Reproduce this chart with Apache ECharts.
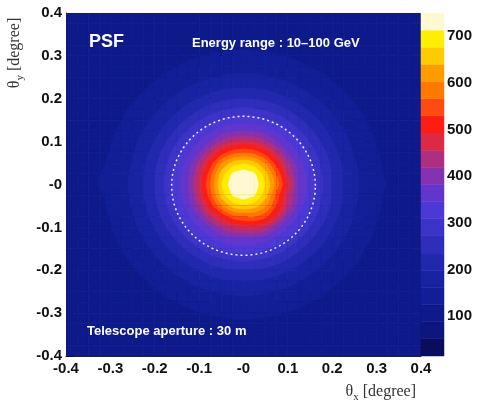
<!DOCTYPE html>
<html>
<head>
<meta charset="utf-8">
<script src="https://cdn.jsdelivr.net/npm/echarts@6/dist/echarts.min.js"></script>
<style>
html, body { margin: 0; padding: 0; background: #fff; }
#main { width: 477px; height: 402px; }
</style>
</head>
<body>
<div id="main"></div>
<script>
// 网格点坐标 (单位: degree)
var xs = [-0.4, -0.375, -0.35, -0.325, -0.3, -0.275, -0.25, -0.225, -0.2, -0.175, -0.15, -0.125, -0.1, -0.075, -0.05, -0.025, 0,
          0.025, 0.05, 0.075, 0.1, 0.125, 0.15, 0.175, 0.2, 0.225, 0.25, 0.275, 0.3, 0.325, 0.35, 0.375, 0.4];
var ys = [0.4, 0.375, 0.35, 0.325, 0.3, 0.275, 0.25, 0.225, 0.2, 0.175, 0.15, 0.125, 0.1, 0.075, 0.05, 0.025, 0,
          -0.025, -0.05, -0.075, -0.1, -0.125, -0.15, -0.175, -0.2, -0.225, -0.25, -0.275, -0.3, -0.325, -0.35, -0.375, -0.4];

// PSF 计数 (行: 从上到下, 列: 从左到右)
var psfRows = [
  [92,92,93,93,94,94,94,95,95,96,97,97,98,98,99,99,99,99,99,98,98,97,97,96,95,95,94,94,94,93,93,92,92],
  [92,93,93,94,94,95,95,96,97,98,99,100,101,103,103,104,104,104,103,103,101,100,99,98,97,96,95,95,94,94,93,93,92],
  [93,93,94,94,95,95,97,98,99,101,103,105,107,109,110,111,111,111,110,109,107,105,103,101,99,98,97,95,95,94,94,93,93],
  [93,94,94,95,96,97,98,100,103,106,109,112,114,117,118,120,120,120,118,117,114,112,109,106,103,100,98,97,96,95,94,94,93],
  [94,94,95,96,97,98,101,104,108,112,116,120,124,127,130,131,132,131,130,127,124,120,116,112,108,104,101,98,97,96,95,94,94],
  [94,95,95,97,98,101,105,110,114,120,125,131,137,142,145,148,149,148,145,142,137,131,125,120,114,110,105,101,98,97,95,95,94],
  [94,95,97,98,101,105,110,116,122,130,138,145,153,159,165,169,170,169,165,159,153,145,138,130,122,116,110,105,101,98,97,95,94],
  [95,96,98,100,104,110,116,123,131,142,152,163,174,183,192,197,199,197,192,183,174,163,152,142,131,123,116,110,104,100,98,96,95],
  [95,97,99,103,108,114,122,131,143,156,170,185,200,215,226,233,235,233,226,215,200,185,170,156,143,131,122,114,108,103,99,97,95],
  [96,98,101,106,112,120,130,142,156,172,192,212,233,251,266,276,280,276,266,251,233,212,192,172,156,142,130,120,112,106,101,98,96],
  [97,99,103,109,116,125,138,152,170,192,217,243,270,295,314,326,330,326,314,295,270,243,217,192,170,152,138,125,116,109,103,99,97],
  [97,100,105,112,120,131,145,163,185,212,243,276,310,338,361,376,382,376,361,338,310,276,243,212,185,163,145,131,120,112,105,100,97],
  [98,101,107,114,124,137,153,174,200,233,270,310,347,382,428,455,465,455,428,382,347,310,270,233,200,174,153,137,124,114,107,101,98],
  [98,103,109,117,127,142,159,183,215,251,295,338,382,450,505,548,558,548,505,450,382,338,295,251,215,183,159,142,127,117,109,103,98],
  [99,103,110,118,130,145,165,192,226,266,314,361,428,505,600,655,672,655,595,505,428,361,314,266,226,192,165,145,130,118,110,103,99],
  [99,104,116,125,131,148,169,197,233,276,326,376,455,548,655,718,738,718,655,560,455,376,326,276,233,197,169,148,131,120,111,104,99],
  [99,104,118,127,132,149,170,199,235,280,330,382,465,565,672,738,748,738,672,585,478,382,330,280,235,199,170,149,136,124,111,104,99],
  [99,104,111,120,131,148,169,197,233,276,326,376,455,548,655,716,738,716,655,548,455,376,326,276,233,197,169,148,131,120,111,104,99],
  [99,103,110,118,130,145,165,192,226,266,314,361,428,505,595,655,672,655,610,525,445,361,314,266,226,192,165,145,130,118,110,103,99],
  [98,103,109,117,127,142,159,183,215,251,295,338,382,450,492,548,565,568,540,475,390,338,295,251,215,183,159,142,127,117,109,103,98],
  [98,101,107,114,124,137,153,174,200,233,270,310,347,382,428,455,465,470,450,390,347,310,270,233,200,174,153,137,124,114,107,101,98],
  [97,100,105,112,120,131,145,163,185,212,243,276,310,338,361,376,382,376,361,338,310,276,243,212,185,163,145,131,120,112,105,100,97],
  [97,99,103,109,116,125,138,152,170,192,217,243,270,295,314,326,330,326,314,295,270,243,217,192,170,152,138,125,116,109,103,99,97],
  [96,98,101,106,112,120,130,142,156,172,192,212,233,251,266,276,280,276,266,251,233,212,192,172,156,142,130,120,112,106,101,98,96],
  [95,97,99,103,108,114,122,131,143,156,170,185,200,215,226,233,235,233,226,215,200,185,170,156,143,131,122,114,108,103,99,97,95],
  [95,96,98,100,104,110,116,123,131,142,152,163,174,183,192,197,199,197,192,183,174,163,152,142,131,123,116,110,104,100,98,96,95],
  [94,95,97,98,101,105,110,116,122,130,138,145,153,159,165,169,170,169,165,159,153,145,138,130,122,116,110,105,101,98,97,95,94],
  [94,95,95,97,98,101,105,110,114,120,125,131,137,142,145,148,149,148,145,142,137,131,125,120,114,110,105,101,98,97,95,95,94],
  [94,94,95,96,97,98,101,104,108,112,116,120,124,127,130,131,132,131,130,127,124,120,116,112,108,104,101,98,97,96,95,94,94],
  [93,94,94,95,96,97,98,100,103,106,109,112,114,117,118,120,120,120,118,117,114,112,109,106,103,100,98,97,96,95,94,94,93],
  [93,93,94,94,95,95,97,98,99,101,103,105,107,109,110,111,111,111,110,109,107,105,103,101,99,98,97,95,95,94,94,93,93],
  [92,93,93,94,94,95,95,96,97,98,99,100,101,103,103,104,104,104,103,103,101,100,99,98,97,96,95,95,94,94,93,93,92],
  [92,92,93,93,94,94,94,95,95,96,97,97,98,98,99,99,99,99,99,98,98,97,97,96,95,95,94,94,94,93,93,92,92]
];

// 色标范围与刻度
var zMin = 15;
var zMax = 750;
var zTicks = [100, 200, 300, 400, 500, 600, 700];

// 圆圈 (中心, 半径)
var circleCenter = [0, -0.003];
var circleRadius = 0.162;

// 20 个等高线色带 (由低到高)
var bandColors = [
  '#0a0c5c', '#0c167e', '#0e1a8a', '#121e96', '#1823a2',
  '#2228ae', '#2e2eba', '#3c34c8', '#4c38d4', '#6236cc',
  '#8432b0', '#ae2e80', '#dc2a44', '#ff1c12', '#ff4a10',
  '#ff7800', '#ff9c00', '#ffcc00', '#ffee00', '#fff8d0'
];

var nBands = bandColors.length;
var step = (zMax - zMin) / nBands;
var levels = [];
for (var b = 0; b <= nBands; b++) levels.push(zMin + b * step);

function bandIndex (v) {
    var i = Math.floor((v - zMin) / step);
    return Math.max(0, Math.min(nBands - 1, i));
}

function fmtTick (v) {
    if (Math.abs(v) < 1e-9) return '-0';
    return (Math.round(v * 10) / 10).toFixed(1);
}

// 等高线单元 (marching squares)
function renderCell (params, api) {
    var c = api.value(2), k = api.value(3);
    var pts = [
        api.coord([xs[c], ys[k]]), api.coord([xs[c + 1], ys[k]]),
        api.coord([xs[c + 1], ys[k + 1]]), api.coord([xs[c], ys[k + 1]])
    ];
    var vals = [psfRows[k][c], psfRows[k][c + 1], psfRows[k + 1][c + 1], psfRows[k + 1][c]];
    var b0 = bandIndex(Math.min.apply(null, vals));
    var b1 = bandIndex(Math.max.apply(null, vals));
    var children = [{
        type: 'polygon', shape: { points: pts },
        style: { fill: bandColors[b0], stroke: bandColors[b0], lineWidth: 0.8 }
    }];
    for (var b = b0 + 1; b <= b1; b++) {
        var L = levels[b];
        var poly = [];
        for (var e = 0; e < 4; e++) {
            var p = pts[e], q = pts[(e + 1) % 4], vp = vals[e], vq = vals[(e + 1) % 4];
            if (vp >= L) poly.push(p);
            if ((vp >= L) !== (vq >= L)) {
                var t = (L - vp) / (vq - vp);
                poly.push([p[0] + t * (q[0] - p[0]), p[1] + t * (q[1] - p[1])]);
            }
        }
        if (poly.length >= 3) {
            children.push({
                type: 'polygon', shape: { points: poly },
                style: { fill: bandColors[b], stroke: bandColors[b], lineWidth: 0.8 }
            });
        }
    }
    return { type: 'group', children: children };
}

var cells = [];
for (var k = 0; k < ys.length - 1; k++) {
    for (var c = 0; c < xs.length - 1; c++) {
        cells.push([(xs[c] + xs[c + 1]) / 2, (ys[k] + ys[k + 1]) / 2, c, k]);
    }
}

var bars = [];
for (var b = 0; b < nBands; b++) bars.push([0.5, (levels[b] + levels[b + 1]) / 2, b]);

var labelFont = { color: '#111', fontSize: 15, fontWeight: 'bold', fontFamily: 'Liberation Sans' };

var chart = echarts.init(document.getElementById('main'));
var option = {
    animation: false,
    backgroundColor: '#fff',
    grid: [
        { left: 66, top: 13, width: 355, height: 343 },
        { left: 421, top: 13, width: 23, height: 343 }
    ],
    xAxis: [
        {
            type: 'value', gridIndex: 0, min: -0.4, max: 0.4, interval: 0.1,
            axisLine: { show: true, onZero: false, lineStyle: { color: '#222', width: 1 } },
            axisTick: { show: true, inside: true, length: 7, lineStyle: { color: '#111' } },
            minorTick: { show: true, splitNumber: 5, length: 4, lineStyle: { color: '#111' } },
            splitLine: { show: false },
            axisLabel: Object.assign({ margin: 5, showMinLabel: true, showMaxLabel: true, formatter: fmtTick }, labelFont)
        },
        { type: 'value', gridIndex: 1, min: 0, max: 1, show: false }
    ],
    yAxis: [
        {
            type: 'value', gridIndex: 0, min: -0.4, max: 0.4, interval: 0.1,
            axisLine: { show: true, onZero: false, lineStyle: { color: '#222', width: 1 } },
            axisTick: { show: true, inside: true, length: 7, lineStyle: { color: '#111' } },
            minorTick: { show: true, splitNumber: 5, length: 4, lineStyle: { color: '#111' } },
            splitLine: { show: false },
            axisLabel: Object.assign({ margin: 4, showMinLabel: true, showMaxLabel: true, formatter: fmtTick }, labelFont)
        },
        {
            type: 'value', gridIndex: 1, min: zMin, max: zMax, position: 'right',
            axisLine: { show: false },
            axisTick: { show: true, inside: true, length: 9, customValues: zTicks, lineStyle: { color: '#222', width: 1.2 } },
            splitLine: { show: false },
            axisLabel: Object.assign({ margin: 3, customValues: zTicks }, labelFont)
        }
    ],
    graphic: [
        { type: 'text', x: 89, y: 42, z: 100, style: { text: 'PSF', fill: '#fff', font: 'bold 18px "Liberation Sans"', verticalAlign: 'middle' } },
        { type: 'text', x: 192, y: 43, z: 100, style: { text: 'Energy range : 10\u2013100 GeV', fill: '#fff', font: 'bold 13px "Liberation Sans"', verticalAlign: 'middle' } },
        { type: 'text', x: 87, y: 331, z: 100, style: { text: 'Telescope aperture : 30 m', fill: '#fff', font: 'bold 13px "Liberation Sans"', verticalAlign: 'middle' } },
        {
            type: 'text', x: 416, y: 392, z: 100,
            style: {
                text: '{a|\u03b8}{b|x}{a| [degree]}', align: 'right', verticalAlign: 'middle',
                rich: {
                    a: { fontSize: 16, fontFamily: 'Liberation Serif', fill: '#333', lineHeight: 22 },
                    b: { fontSize: 11, fontFamily: 'Liberation Serif', fill: '#333', lineHeight: 14, verticalAlign: 'bottom' }
                }
            }
        },
        {
            type: 'text', x: 15, y: 53, z: 100, rotation: Math.PI / 2,
            style: {
                text: '{a|\u03b8}{b|y}{a| [degree]}', align: 'center', verticalAlign: 'middle',
                rich: {
                    a: { fontSize: 16, fontFamily: 'Liberation Serif', fill: '#333', lineHeight: 22 },
                    b: { fontSize: 11, fontFamily: 'Liberation Serif', fill: '#333', lineHeight: 14, verticalAlign: 'bottom' }
                }
            }
        }
    ],
    series: [
        {
            type: 'custom', coordinateSystem: 'cartesian2d', xAxisIndex: 0, yAxisIndex: 0,
            silent: true, clip: true, renderItem: renderCell,
            encode: { x: 0, y: 1 }, data: cells
        },
        {
            type: 'custom', coordinateSystem: 'cartesian2d', xAxisIndex: 0, yAxisIndex: 0,
            silent: true, z: 5,
            renderItem: function (params, api) {
                var pts = [];
                for (var a = 0; a <= 120; a++) {
                    var t = a / 120 * Math.PI * 2;
                    pts.push(api.coord([api.value(0) + circleRadius * Math.cos(t), api.value(1) + circleRadius * Math.sin(t)]));
                }
                return {
                    type: 'polyline', shape: { points: pts },
                    style: { fill: null, stroke: '#eeeeff', lineWidth: 1.5, lineDash: [2, 3] }
                };
            },
            encode: { x: 0, y: 1 }, data: [circleCenter]
        },
        {
            type: 'custom', coordinateSystem: 'cartesian2d', xAxisIndex: 1, yAxisIndex: 1,
            silent: true,
            renderItem: function (params, api) {
                var b = api.value(2);
                var p0 = api.coord([0, levels[b]]);
                var p1 = api.coord([1, levels[b + 1]]);
                return {
                    type: 'rect',
                    shape: { x: p0[0], y: p1[1], width: p1[0] - p0[0], height: p0[1] - p1[1] },
                    style: { fill: bandColors[b], stroke: bandColors[b], lineWidth: 0.5 }
                };
            },
            encode: { x: 0, y: 1 }, data: bars
        }
    ]
};
chart.setOption(option);
</script>
</body>
</html>
